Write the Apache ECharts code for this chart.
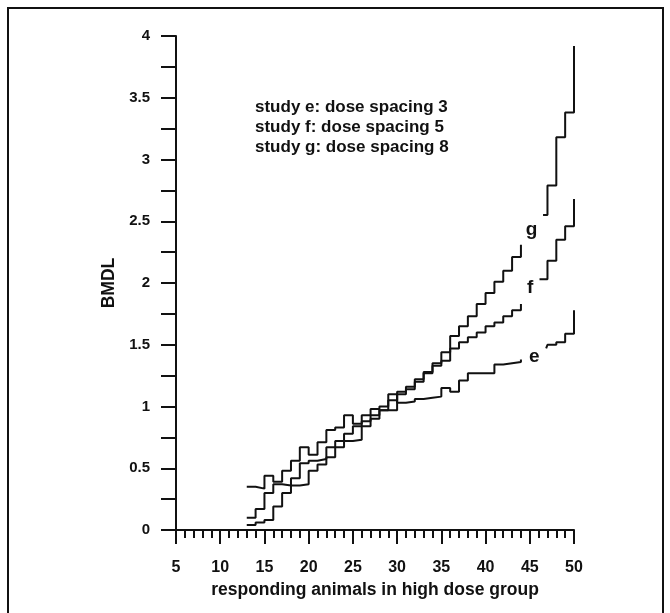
<!DOCTYPE html>
<html>
<head>
<meta charset="utf-8">
<script src="https://cdn.jsdelivr.net/npm/echarts@6/dist/echarts.min.js"></script>
<style>
  html, body { margin: 0; padding: 0; background: #fff; }
  #chart { width: 670px; height: 613px; }
</style>
</head>
<body>
<div id="chart"></div>
<script>
// x positions of the steps (responding animals), left part
var xLeft = [13, 14, 15, 16, 17, 18, 19, 20, 21, 22, 23, 24, 25, 26, 27, 28,
             29, 30, 31, 32, 33, 34, 35, 36, 37, 38, 39, 40, 41, 42, 43, 44];

// BMDL per study, left part (last value = end tick at x=44)
var eLeft = [0.35, 0.335, 0.44, 0.39, 0.48, 0.56, 0.67, 0.61, 0.71, 0.81, 0.83, 0.93, 0.86, 0.93, 0.98, 1.00,
             1.10, 1.03, 1.04, 1.06, 1.07, 1.08, 1.15, 1.12, 1.21, 1.27, 1.27, 1.27, 1.34, 1.35, 1.36, 1.38];
var fLeft = [0.10, 0.17, 0.30, 0.37, 0.36, 0.42, 0.54, 0.56, 0.575, 0.67, 0.72, 0.78, 0.84, 0.88, 0.93, 0.97,
             1.05, 1.12, 1.16, 1.20, 1.27, 1.33, 1.37, 1.47, 1.52, 1.56, 1.60, 1.65, 1.68, 1.73, 1.78, 1.83];
var gLeft = [0.04, 0.06, 0.08, 0.19, 0.30, 0.36, 0.37, 0.48, 0.53, 0.59, 0.67, 0.72, 0.73, 0.84, 0.90, 0.97,
             0.97, 1.10, 1.14, 1.22, 1.28, 1.35, 1.44, 1.57, 1.65, 1.73, 1.83, 1.92, 2.01, 2.10, 2.21, 2.31];

// right part (after the labels)
var xRightE = [46.85, 47, 48, 49, 50];
var eRight = [1.47, 1.50, 1.52, 1.59, 1.78];
var xRightF = [46.1, 47, 48, 49, 50];
var fRight = [2.03, 2.18, 2.35, 2.46, 2.68];
var xRightG = [46.5, 47, 48, 49, 50];
var gRight = [2.55, 2.79, 3.18, 3.38, 3.92];

// curve labels
var curveNames = ['g', 'f', 'e'];
var labelX = [45.2, 45.05, 45.5];
var labelY = [2.43, 1.96, 1.40];

var notes = ['study e: dose spacing 3', 'study f: dose spacing 5', 'study g: dose spacing 8'];

var FONT = 'Liberation Sans, Arial, sans-serif';

function pairs(xs, ys) {
	var out = [];
	for (var i = 0; i < xs.length; i++) out.push([xs[i], ys[i]]);
	return out;
}

function stepSeries(data) {
	return {
		type: 'line',
		step: 'end',
		showSymbol: false,
		silent: true,
		lineStyle: { color: '#111', width: 2 },
		data: data
	};
}

var chart = echarts.init(document.getElementById('chart'));

var labelData = [];
for (var i = 0; i < curveNames.length; i++) {
	labelData.push({ value: [labelX[i], labelY[i]], name: curveNames[i] });
}

var option = {
	animation: false,
	backgroundColor: '#fff',
	grid: { left: 176, right: 96, top: 36, bottom: 83 },
	xAxis: {
		type: 'value',
		min: 5, max: 50, interval: 5,
		name: 'responding animals in high dose group',
		nameLocation: 'middle',
		nameGap: 50,
		nameTextStyle: { fontFamily: FONT, fontWeight: 'bold', fontSize: 17.5, color: '#111' },
		axisLine: { lineStyle: { color: '#111', width: 2 } },
		axisTick: { length: 14, lineStyle: { color: '#111', width: 2 } },
		minorTick: { show: true, splitNumber: 5, length: 8, lineStyle: { color: '#111', width: 2 } },
		axisLabel: { margin: 30, fontFamily: FONT, fontWeight: 'bold', fontSize: 16, color: '#111' },
		splitLine: { show: false }
	},
	yAxis: {
		type: 'value',
		min: 0, max: 4, interval: 0.25,
		name: 'BMDL',
		nameLocation: 'middle',
		nameGap: 58,
		nameTextStyle: { fontFamily: FONT, fontWeight: 'bold', fontSize: 17.5, color: '#111' },
		axisLine: { lineStyle: { color: '#111', width: 2 } },
		axisTick: { length: 15, lineStyle: { color: '#111', width: 2 } },
		axisLabel: {
			margin: 26, fontFamily: FONT, fontWeight: 'bold', fontSize: 15, color: '#111',
			formatter: function (v) { return (Math.round(v * 100) % 50 === 0) ? String(v) : ''; }
		},
		splitLine: { show: false }
	},
	graphic: [
		{
			type: 'rect', silent: true,
			shape: { x: 8, y: 8, width: 655, height: 625 },
			style: { fill: 'none', stroke: '#111', lineWidth: 2 }
		},
		{
			type: 'text', left: 255, top: 97, silent: true,
			style: {
				text: notes.join('\n'),
				font: 'bold 17px ' + FONT,
				fill: '#111',
				lineHeight: 20
			}
		}
	],
	series: [
		stepSeries(pairs(xLeft, eLeft)),
		stepSeries(pairs(xLeft, fLeft)),
		stepSeries(pairs(xLeft, gLeft)),
		stepSeries(pairs(xRightE, eRight)),
		stepSeries(pairs(xRightF, fRight)),
		stepSeries(pairs(xRightG, gRight)),
		{
			type: 'scatter',
			symbolSize: 0,
			silent: true,
			itemStyle: { opacity: 1, color: '#111' },
			data: labelData,
			label: {
				show: true,
				position: 'inside',
				formatter: '{b}',
				fontFamily: FONT,
				fontWeight: 'bold',
				fontSize: 19,
				color: '#111',
				textBorderWidth: 0
			}
		}
	]
};

chart.setOption(option);
</script>
</body>
</html>
